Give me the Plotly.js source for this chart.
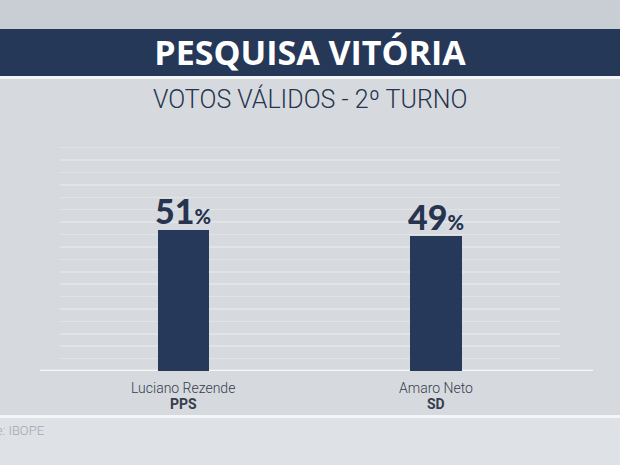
<!DOCTYPE html>
<html>
<head>
<meta charset="utf-8">
<script src="https://cdn.plot.ly/plotly-3.0.1.min.js"></script>
<style>
  html, body { margin: 0; padding: 0; background: #d6dade; }
  #chart { width: 620px; height: 465px; }
</style>
</head>
<body>
<div id="chart"></div>
<script>
// ── data ──
const candidates = ['Luciano Rezende', 'Amaro Neto'];
const parties    = ['PPS', 'SD'];
const votes      = [51, 49];

const NAVY = '#27395a';
const TEXT = '#26344f';
const LABEL_FONT = 'Roboto, "Open Sans", sans-serif';

// ── chart ──
const traces = [{
  type: 'bar',
  x: candidates,
  y: votes,
  width: 0.204,
  marker: { color: NAVY, line: { width: 0 } },
  hoverinfo: 'skip',
}];

const valueLabels = candidates.map((c, i) => ({
  x: c, y: votes[i], xref: 'x', yref: 'y',
  yanchor: 'bottom', showarrow: false, yshift: -3,
  text: `${votes[i]}<span style="font-size:20px">%</span>`,
  font: { family: 'Lato, "Open Sans", sans-serif', size: 34, color: TEXT, weight: 900 },
}));

const nameLabels = candidates.map(c => ({
  x: c, y: 0, xref: 'x', yref: 'y',
  yanchor: 'top', showarrow: false, yshift: -7,
  text: c,
  font: { family: LABEL_FONT, size: 14, color: '#363d4d', weight: 300 },
}));

const partyLabels = candidates.map((c, i) => ({
  x: c, y: 0, xref: 'x', yref: 'y',
  yanchor: 'top', showarrow: false, yshift: -23,
  text: `<b>${parties[i]}</b>`,
  font: { family: LABEL_FONT, size: 14, color: '#363d4d' },
}));

const layout = {
  width: 620, height: 465,
  margin: { l: 60, r: 60, t: 135, b: 94 },
  paper_bgcolor: '#d6dade',
  plot_bgcolor: 'rgba(0,0,0,0)',
  showlegend: false,
  bargap: 0,
  title: {
    text: '<b>PESQUISA VITÓRIA</b>',
    x: 0.5, xanchor: 'center',
    y: 0.886, yanchor: 'middle', yref: 'container',
    font: { family: '"Open Sans", "Noto Sans", sans-serif', size: 34, color: '#ffffff' },
  },
  xaxis: {
    range: [-0.489, 1.491],
    showticklabels: false, showgrid: false, zeroline: false, showline: false,
    fixedrange: true,
  },
  yaxis: {
    range: [0, 85.6],
    tick0: 0, dtick: 4.5,
    showgrid: true, gridcolor: 'rgba(255,255,255,0.28)', gridwidth: 1.5,
    showticklabels: false, zeroline: false, showline: false,
    fixedrange: true,
  },
  shapes: [
    // top darker band
    { type: 'rect', xref: 'paper', yref: 'paper', x0: -0.2, x1: 1.2, y0: 1.449, y1: 1.6,
      fillcolor: '#c9ced4', line: { width: 0 }, layer: 'below' },
    // title banner
    { type: 'rect', xref: 'paper', yref: 'paper', x0: -0.2, x1: 1.2, y0: 1.25, y1: 1.449,
      fillcolor: '#263858', line: { width: 0 }, layer: 'below' },
    { type: 'rect', xref: 'paper', yref: 'paper', x0: -0.2, x1: 1.2, y0: 1.2373, y1: 1.25,
      fillcolor: '#f2f4f6', line: { width: 0 }, layer: 'below' },
    // lower source panel
    { type: 'rect', xref: 'paper', yref: 'paper', x0: -0.2, x1: 1.2, y0: -0.199, y1: -0.1864,
      fillcolor: '#f4f5f7', line: { width: 0 }, layer: 'below' },
    { type: 'rect', xref: 'paper', yref: 'paper', x0: -0.2, x1: 1.2, y0: -0.45, y1: -0.199,
      fillcolor: '#dee1e5', line: { width: 0 }, layer: 'below' },
    // baseline
    { type: 'line', xref: 'paper', yref: 'y', x0: -0.04, x1: 1.066, y0: 0, y1: 0,
      line: { color: '#f6f7f9', width: 2.5 }, layer: 'below' },
  ],
  annotations: [
    {
      xref: 'paper', yref: 'paper', x: 0.5, y: 1.153,
      xanchor: 'center', yanchor: 'middle', showarrow: false,
      text: 'VOTOS VÁLIDOS - 2º TURNO',
      font: { family: LABEL_FONT, size: 25, color: TEXT, weight: 300 },
    },
    {
      xref: 'paper', yref: 'paper', x: -0.028, y: -0.25,
      xanchor: 'right', yanchor: 'middle', showarrow: false,
      text: 'Fonte: IBOPE',
      font: { family: LABEL_FONT, size: 13, color: '#a3a8b0', weight: 300 },
    },
    ...valueLabels,
    ...nameLabels,
    ...partyLabels,
  ],
};

Plotly.newPlot('chart', traces, layout, { displayModeBar: false, staticPlot: true });
</script>
</body>
</html>
